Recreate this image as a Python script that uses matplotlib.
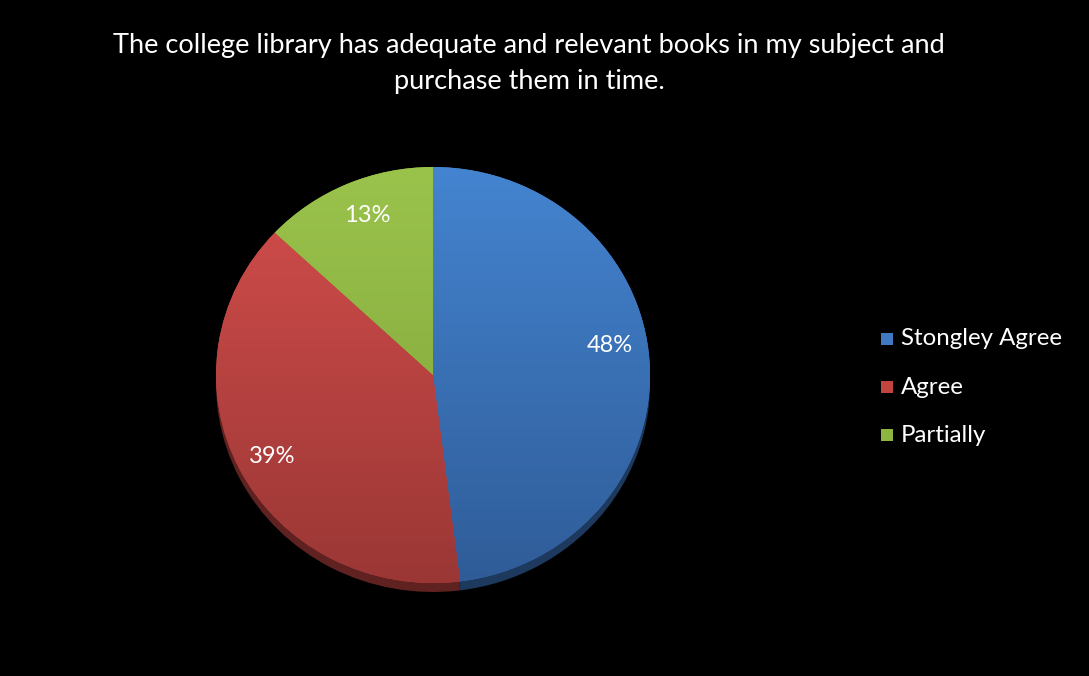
import matplotlib
matplotlib.use("Agg")
import matplotlib.pyplot as plt
import numpy as np
from matplotlib.colors import to_rgb

categories = ["Stongley Agree", "Agree", "Partially"]
values = [48, 39, 13]
labels = ["48%", "39%", "13%"]
colors = ["#4079C2", "#C2443F", "#8DB640"]
top_colors = ["#4484D0", "#D44E4C", "#9AC34C"]
bottom_colors = ["#2F5C98", "#9A3735", "#7EA238"]
title_lines = ["The college library has adequate and relevant books in my subject and",
               "purchase them in time."]

W, H = 1089, 676
fig = plt.figure(figsize=(W / 100, H / 100), dpi=100, facecolor="black")
plt.rcParams['font.family'] = ['Lato', 'DejaVu Sans']

cx, cy, rx, ry = 433, 375, 217, 208
depth = 9

def add_ax(x0, y0c):
    return fig.add_axes([(x0 - rx) / W, (H - y0c - ry) / H, 2 * rx / W, 2 * ry / H])

# depth (side) layer
axd = add_ax(cx, cy + depth)
axd.set_facecolor("none")
dark = [tuple(np.array(to_rgb(c)) * 0.62) for c in bottom_colors]
axd.pie(values, colors=dark, startangle=90, counterclock=False, radius=1,
        wedgeprops=dict(linewidth=0))
axd.set_xlim(-1, 1); axd.set_ylim(-1, 1); axd.set_aspect("auto"); axd.axis("off")

ax = add_ax(cx, cy)
ax.set_facecolor("none")
wedges, _ = ax.pie(values, colors=colors, startangle=90, counterclock=False, radius=1,
                   wedgeprops=dict(linewidth=0))
ax.set_xlim(-1, 1); ax.set_ylim(-1, 1); ax.set_aspect("auto"); ax.axis("off")

# vertical gradient shading
yy = np.linspace(1, 0, 256)[:, None]
for w, t, b in zip(wedges, top_colors, bottom_colors):
    top = np.array(to_rgb(t)); bot = np.array(to_rgb(b))
    img = top[None, None, :] * yy[..., None] + bot[None, None, :] * (1 - yy[..., None])
    img = np.repeat(img, 2, axis=1)
    im = ax.imshow(img, extent=[-1, 1, -1, 1], aspect="auto", zorder=2, interpolation="bilinear")
    im.set_clip_path(w)
ax.set_xlim(-1, 1); ax.set_ylim(-1, 1)

# label placement (radius, angle shift in degrees) per wedge
label_layout = [(0.828, 6.4), (0.838, 0.7), (0.827, -1.8)]
cum = np.cumsum([0] + values)
for i, lab in enumerate(labels):
    mid = 90 - (cum[i] + values[i] / 2) / sum(values) * 360 + label_layout[i][1]
    r = label_layout[i][0]
    x = r * np.cos(np.radians(mid)); y = r * np.sin(np.radians(mid))
    ax.text(x, y, lab, color="white", fontsize=17, ha="center", va="center", zorder=5)

fig.text(529 / W, 1 - 46 / H, title_lines[0], color="white", fontsize=19.5,
         ha="center", va="center")
fig.text(529 / W, 1 - 81 / H, title_lines[1], color="white", fontsize=19.5,
         ha="center", va="center")

# legend
for i, (cat, c) in enumerate(zip(categories, colors)):
    y = 339 + i * 48
    fig.patches.append(plt.Rectangle((881 / W, (H - y - 6) / H), 12 / W, 12 / H,
                                     transform=fig.transFigure, facecolor=c, edgecolor="none"))
    fig.text(901 / W, 1 - y / H, cat, color="white", fontsize=17.3, ha="left", va="center")

fig.savefig("out.png", dpi=100, facecolor="black")
